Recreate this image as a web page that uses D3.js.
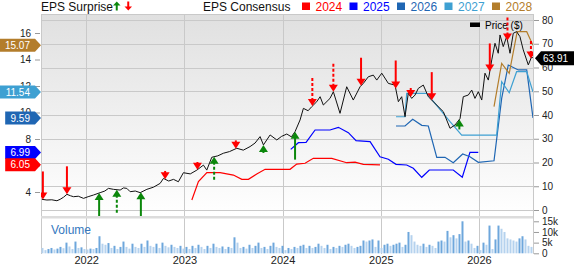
<!DOCTYPE html>
<html lang="en">
<head>
<meta charset="UTF-8" />
<title>EPS Surprise and Consensus</title>
<script src="https://d3js.org/d3.v7.min.js"></script>
<style>
  body { margin: 0; background: #fff; }
  svg { display: block; font-family: "Liberation Sans", Arial, sans-serif; }
</style>
</head>
<body>
<script>
// ---------- data ----------
var years = [2022, 2023, 2024, 2025, 2026];
var priceTicks = [0, 10, 20, 30, 40, 50, 60, 70, 80];
var epsTicks = [4, 6, 8, 10, 12, 14, 16];
var volTicks = [0, 5, 10, 15];

// price, dates as decimal years
var priceDates = [
  2021.549, 2021.600, 2021.650, 2021.702, 2021.735, 2021.770, 2021.804, 2021.840, 2021.871, 2021.920,
  2021.973, 2022.020, 2022.074, 2022.142, 2022.190, 2022.227, 2022.278, 2022.346, 2022.380, 2022.414,
  2022.448, 2022.500, 2022.550, 2022.618, 2022.685, 2022.753, 2022.787, 2022.840, 2022.889, 2022.939,
  2022.990, 2023.060, 2023.127, 2023.194, 2023.228, 2023.279, 2023.340, 2023.397, 2023.460, 2023.534,
  2023.600, 2023.669, 2023.720, 2023.771, 2023.805, 2023.873, 2023.941, 2023.990, 2024.043, 2024.090,
  2024.127, 2024.178, 2024.212, 2024.260, 2024.297, 2024.348, 2024.382, 2024.415, 2024.483, 2024.517,
  2024.585, 2024.653, 2024.720, 2024.789, 2024.822, 2024.873, 2024.924, 2024.959, 2025.010, 2025.077,
  2025.145, 2025.179, 2025.213, 2025.247, 2025.280, 2025.315, 2025.349, 2025.382, 2025.433, 2025.484,
  2025.552, 2025.637, 2025.705, 2025.756, 2025.807, 2025.840, 2025.891, 2025.926, 2025.959, 2025.993,
  2026.028, 2026.061, 2026.095, 2026.130, 2026.163, 2026.196, 2026.214, 2026.247, 2026.282, 2026.316,
  2026.349, 2026.383, 2026.417, 2026.451, 2026.502, 2026.536, 2026.550
];
var priceValues = [
  4.5, 4.2, 4.3, 3.9, 4.5, 5.4, 6.6, 6.0, 5.6, 5.8,
  4.9, 5.6, 6.3, 7.3, 8.0, 9.1, 8.7, 8.4, 9.3, 9.1,
  7.7, 8.0, 7.3, 8.7, 9.6, 11.2, 13.3, 12.2, 12.9, 11.9,
  15.7, 15.2, 16.8, 18.9, 16.8, 22.2, 22.8, 23.9, 24.6, 26.0,
  25.2, 26.7, 28.2, 30.9, 27.4, 31.6, 29.5, 31.0, 32.0, 30.8,
  33.0, 37.9, 42.8, 41.8, 43.5, 45.6, 47.7, 44.2, 47.0, 49.8,
  40.7, 51.9, 46.3, 51.9, 53.3, 56.1, 56.8, 54.7, 57.6, 53.3,
  52.6, 45.6, 47.7, 39.3, 49.1, 47.0, 48.4, 51.2, 52.6, 47.7,
  44.9, 41.4, 34.4, 35.8, 38.5, 47.7, 48.4, 50.5, 47.0, 49.8,
  46.3, 57.6, 54.7, 63.2, 70.2, 66.0, 73.7, 68.8, 73.0, 66.0,
  74.4, 75.1, 73.0, 67.4, 61.1, 64.5, 63.91
];

// EPS consensus by fiscal year
var eps2024Dates = [2023.076, 2023.143, 2023.229, 2023.364, 2023.499, 2023.585, 2023.652, 2023.737, 2023.822,
  2024.076, 2024.144, 2024.229, 2024.313, 2024.501, 2024.653, 2024.738, 2024.822, 2024.992];
var eps2024 = [3.40, 4.78, 5.46, 5.46, 5.28, 4.96, 4.96, 5.36, 5.71,
  5.71, 6.11, 6.17, 6.54, 6.54, 6.21, 6.26, 6.09, 6.05];

var eps2025Dates = [2024.083, 2024.161, 2024.239, 2024.331, 2024.483, 2024.568, 2024.670, 2024.748, 2024.891, 2024.992,
  2025.077, 2025.155, 2025.264, 2025.331, 2025.417, 2025.494, 2025.738, 2025.830, 2025.908, 2025.993];
var eps2025 = [7.22, 7.72, 7.75, 8.68, 8.68, 8.88, 8.48, 7.87, 7.80, 6.66,
  6.47, 6.09, 6.04, 5.79, 5.11, 5.66, 5.66, 5.11, 7.00, 6.99];

var eps2026Dates = [2025.155, 2025.247, 2025.325, 2025.417, 2025.484, 2025.570, 2025.654, 2025.738, 2025.834,
  2025.908, 2025.993, 2026.153, 2026.231, 2026.298, 2026.400, 2026.486, 2026.550];
var eps2026 = [8.98, 8.98, 9.49, 9.03, 8.98, 6.62, 6.62, 6.21, 6.87,
  6.66, 6.24, 6.36, 11.07, 13.58, 13.21, 13.21, 9.59];

var eps2027Dates = [2025.155, 2025.247, 2025.264, 2025.468, 2025.552, 2025.705, 2025.824, 2026.180, 2026.231,
  2026.308, 2026.383, 2026.486, 2026.550];
var eps2027 = [9.68, 9.68, 11.45, 11.45, 10.69, 9.31, 8.30, 8.30, 12.32,
  11.49, 13.08, 13.08, 11.54];

var eps2028Dates = [2026.153, 2026.231, 2026.308, 2026.389, 2026.486, 2026.550];
var eps2028 = [10.44, 13.71, 12.96, 16.10, 16.10, 15.07];

// EPS surprises (%), negative = miss
var surpriseDates = [2021.559, 2021.804, 2022.132, 2022.312, 2022.557, 2022.804, 2023.133, 2023.303, 2023.524, 2023.805,
  2024.127, 2024.303, 2024.517, 2024.799, 2025.152, 2025.305, 2025.519, 2025.800, 2026.110, 2026.290, 2026.529];
var surpriseValues = [-45, -38, 35, 24.6, 40, -8.9, -8.2, 24.6, -8.9, 8.6,
  33, -31, -30, -36, -32, -9.6, -33, 10.7, -42, -24.6, -18.6];
var surpriseDashed = [false, false, false, true, false, false, false, true, false, false,
  false, true, true, false, false, false, false, false, false, true, true];

// volume in thousands
var volStart = 2021.555, volStep = 0.03055;
var volume = [
  2.5, 1.5, 2.0, 2.5, 1.8, 2.2, 3.0, 2.4, 5.0, 3.2, 2.0, 5.5, 2.5, 2.8, 2.0,
  1.8, 2.2, 2.0, 2.5, 8.0, 4.5, 4.0, 4.8,
  2.5, 3.5, 2.0, 3.0, 5.5, 3.0, 2.2, 4.5, 3.0, 2.5,
  4.5, 3.0, 6.0, 3.5,
  3.0, 4.5, 2.5, 5.0, 3.5, 2.8, 4.0, 3.0, 2.5, 3.5, 2.2,
  3.0, 2.0, 3.5, 2.5, 4.0, 3.0, 2.0, 3.5, 2.5, 4.5, 3.0, 2.5, 3.2, 2.0, 3.0,
  2.5, 7.5, 5.0, 2.5,
  3.0, 2.2, 4.0, 2.5, 3.5, 5.0, 2.5, 3.0, 2.0, 3.5, 5.0, 3.0, 2.5, 3.5,
  1.5, 2.5, 2.0, 3.0, 2.5, 3.5, 4.0, 2.5, 3.5, 2.5,
  3.0, 4.5, 3.5, 2.5, 4.0, 2.0,
  3.0, 2.5, 3.5, 3.0, 4.0, 4.5, 3.5, 2.5, 3.0, 3.5, 6.0, 5.5, 6.0, 6.5, 3.0, 6.0, 2.5, 4.0, 4.5, 3.5, 4.0, 4.5, 5.0, 3.0, 4.0,
  10.0, 8.5, 5.5, 4.0, 3.5, 4.5, 3.0, 4.0, 3.5, 2.5, 5.5, 6.0, 5.5, 10.5, 7.5, 8.5, 7.0, 9.0, 15.0, 5.5, 6.0,
  4.5, 2.5, 3.5, 1.5, 5.0, 4.0, 13.0, 2.0, 6.5, 13.0, 11.5, 10.0, 7.0, 6.5, 6.0, 5.5, 7.0, 8.0, 6.5, 3.5, 3.0
];

var seriesNames = ["2024", "2025", "2026", "2027", "2028"];
var seriesColors = ["#ff0000", "#0000ff", "#1f66b3", "#3ea0d2", "#b37d2b"];
var seriesDates = [eps2024Dates, eps2025Dates, eps2026Dates, eps2027Dates, eps2028Dates];
var seriesValues = [eps2024, eps2025, eps2026, eps2027, eps2028];

// ---------- chart ----------
var w = 574, h = 264;
var plotLeft = 41, plotRight = 533, plotTop = 14, mainBottom = 216, volBottom = 254;

var svg = d3.select("body").append("svg").attr("width", w).attr("height", h);

var x = d3.scaleLinear().domain([2021.54, 2026.55]).range([plotLeft, plotRight]);
var yPrice = d3.scaleLinear().domain([0, 80]).range([210, 20]);
var yEps = d3.scaleLinear().domain([4, 16]).range([192, 33]);
var yVol = d3.scaleLinear().domain([0, 15]).range([253.3, 221.3]);
var arrowLen = d3.scaleLinear().domain([0, 30]).range([0, 28]).clamp(true);

var defs = svg.append("defs");
var grad = defs.append("linearGradient").attr("id", "bg")
  .attr("x1", 0).attr("y1", 0).attr("x2", 0).attr("y2", 1);
grad.append("stop").attr("offset", "0%").attr("stop-color", "#e0e0e0");
grad.append("stop").attr("offset", "100%").attr("stop-color", "#ffffff");
defs.append("clipPath").attr("id", "clip").append("rect")
  .attr("x", plotLeft).attr("y", plotTop).attr("width", plotRight - plotLeft).attr("height", mainBottom - plotTop);

svg.append("rect").attr("x", plotLeft).attr("y", plotTop)
  .attr("width", plotRight - plotLeft).attr("height", mainBottom - plotTop)
  .attr("fill", "url(#bg)");

// grid
svg.append("g").selectAll("line").data(priceTicks).join("line")
  .attr("x1", plotLeft).attr("x2", plotRight)
  .attr("y1", function(d) { return Math.round(yPrice(d)) + 0.5; })
  .attr("y2", function(d) { return Math.round(yPrice(d)) + 0.5; })
  .attr("stroke", "#c9c9c9");
svg.append("g").selectAll("line").data(years).join("line")
  .attr("x1", function(d) { return Math.round(x(d)) + 0.5; })
  .attr("x2", function(d) { return Math.round(x(d)) + 0.5; })
  .attr("y1", plotTop).attr("y2", volBottom)
  .attr("stroke", "#c9c9c9");

// frame
svg.append("line").attr("x1", plotLeft).attr("x2", plotRight).attr("y1", plotTop + 0.5).attr("y2", plotTop + 0.5).attr("stroke", "#c9c9c9");
svg.append("line").attr("x1", plotLeft + 0.5).attr("x2", plotLeft + 0.5).attr("y1", plotTop).attr("y2", volBottom).attr("stroke", "#c9c9c9");
svg.append("line").attr("x1", plotRight + 0.5).attr("x2", plotRight + 0.5).attr("y1", plotTop).attr("y2", volBottom).attr("stroke", "#c9c9c9");
svg.append("rect").attr("x", plotLeft).attr("y", mainBottom).attr("width", plotRight - plotLeft).attr("height", 2.5).attr("fill", "#dcdcdc");

// volume
svg.append("g").selectAll("rect").data(volume).join("rect")
  .attr("x", function(d, i) { return x(volStart + i * volStep) - 1; })
  .attr("y", function(d) { return yVol(d); })
  .attr("width", 2)
  .attr("height", function(d) { return yVol(0) - yVol(d); })
  .attr("fill", function(d, i) { return i > 0 && d > volume[i - 1] ? "#6ea7dc" : "#b5d2ee"; });

svg.append("text").attr("x", 51).attr("y", 233.5)
  .attr("font-size", 12).attr("fill", "#3579c0").text("Volume");

// axes
function styleAxis(g) {
  g.select(".domain").remove();
  g.selectAll(".tick line").attr("stroke", "#999");
  g.selectAll(".tick text").attr("fill", "#222").attr("font-size", 10)
    .attr("font-family", '"Liberation Sans", Arial, sans-serif');
}
svg.append("g").attr("transform", "translate(40,0)")
  .call(d3.axisLeft(yEps).tickValues(epsTicks).tickSize(5).tickPadding(4).tickFormat(d3.format("d")))
  .call(styleAxis);
svg.append("g").attr("transform", "translate(534,0)")
  .call(d3.axisRight(yPrice).tickValues(priceTicks).tickSize(5).tickPadding(3).tickFormat(d3.format("d")))
  .call(styleAxis);
svg.append("g").attr("transform", "translate(534,0)")
  .call(d3.axisRight(yVol).tickValues(volTicks).tickSize(5).tickPadding(3)
    .tickFormat(function(d) { return d ? d + "k" : "0"; }))
  .call(styleAxis);
svg.append("g").attr("transform", "translate(0,253)")
  .call(d3.axisBottom(x).tickValues(years).tickSize(0).tickPadding(3).tickFormat(d3.format("d")))
  .call(styleAxis)
  .call(function(g) { g.selectAll(".tick text").attr("font-size", 11); });

// price legend
svg.append("rect").attr("x", 470).attr("y", 22.5).attr("width", 10).attr("height", 4.5).attr("fill", "#000");
svg.append("text").attr("x", 485).attr("y", 28.8).attr("font-size", 10).attr("fill", "#000").text("Price ($)");

var plot = svg.append("g").attr("clip-path", "url(#clip)");

// consensus lines
var epsLine = d3.line()
  .x(function(d) { return x(d[0]); })
  .y(function(d) { return yEps(d[1]); });
seriesNames.forEach(function(name, k) {
  plot.append("path")
    .datum(d3.zip(seriesDates[k], seriesValues[k]))
    .attr("fill", "none")
    .attr("stroke", seriesColors[k])
    .attr("stroke-width", 1.2)
    .attr("d", epsLine);
});

// price line
var priceLine = d3.line()
  .x(function(d) { return x(d[0]); })
  .y(function(d) { return yPrice(d[1]); });
plot.append("path")
  .datum(d3.zip(priceDates, priceValues))
  .attr("fill", "none")
  .attr("stroke", "#111")
  .attr("stroke-width", 1)
  .attr("d", priceLine);

// surprise arrows
function priceAt(t) {
  var i = d3.bisectRight(priceDates, t);
  if (i <= 0) return priceValues[0];
  if (i >= priceDates.length) return priceValues[priceValues.length - 1];
  var t0 = priceDates[i - 1], t1 = priceDates[i];
  return priceValues[i - 1] + (priceValues[i] - priceValues[i - 1]) * (t - t0) / (t1 - t0);
}
surpriseDates.forEach(function(t, i) {
  var s = surpriseValues[i];
  var cx = x(t);
  var ty = yPrice(priceAt(t));
  var len = arrowLen(Math.abs(s));
  var up = s > 0;
  var col = up ? "#0b870b" : "#ff0000";
  var dir = up ? 1 : -1;
  plot.append("line")
    .attr("x1", cx).attr("x2", cx)
    .attr("y1", ty + dir * Math.max(len, 7)).attr("y2", ty + dir * 6)
    .attr("stroke", col).attr("stroke-width", 2)
    .attr("stroke-dasharray", surpriseDashed[i] ? "3,2" : null);
  plot.append("path")
    .attr("d", "M" + (cx - 4.5) + "," + (ty + dir * 7) + "L" + (cx + 4.5) + "," + (ty + dir * 7) + "L" + cx + "," + ty + "Z")
    .attr("fill", col);
});

// left badges with last consensus value
var badgeTip = 41;
seriesNames.slice().reverse().forEach(function(name, r) {
  var k = seriesNames.length - 1 - r;
  var vals = seriesValues[k];
  var v = vals[vals.length - 1];
  var label = d3.format(".2f")(v);
  var cy = yEps(v);
  var tw = label.length * 5.2;
  var x0 = badgeTip - 6 - tw - 9;
  svg.append("path")
    .attr("d", "M" + x0 + "," + (cy - 6.5) + "L" + (badgeTip - 6) + "," + (cy - 6.5) + "L" + badgeTip + "," + cy +
      "L" + (badgeTip - 6) + "," + (cy + 6.5) + "L" + x0 + "," + (cy + 6.5) + "Z")
    .attr("fill", seriesColors[k]);
  svg.append("text").attr("x", badgeTip - 11).attr("y", cy + 3.6)
    .attr("text-anchor", "end").attr("font-size", 10).attr("fill", "#fff").text(label);
});

// right price badge
var lastPrice = priceValues[priceValues.length - 1];
var py = yPrice(lastPrice);
svg.append("path")
  .attr("d", "M535," + py + "L541," + (py - 7) + "L574," + (py - 7) + "L574," + (py + 7) + "L541," + (py + 7) + "Z")
  .attr("fill", "#000");
svg.append("text").attr("x", 543).attr("y", py + 3.6).attr("font-size", 10).attr("fill", "#fff")
  .text(d3.format(".2f")(lastPrice));

// top legend
svg.append("text").attr("x", 41).attr("y", 11).attr("font-size", 12).attr("fill", "#111").text("EPS Surprise");
svg.append("path").attr("d", "M113,5.5L120.5,5.5L116.75,1.5Z").attr("fill", "#0b870b");
svg.append("line").attr("x1", 116.75).attr("x2", 116.75).attr("y1", 5).attr("y2", 10.5)
  .attr("stroke", "#0b870b").attr("stroke-width", 2);
svg.append("path").attr("d", "M124.5,6.5L132,6.5L128.25,10.5Z").attr("fill", "#ff0000");
svg.append("line").attr("x1", 128.25).attr("x2", 128.25).attr("y1", 1.5).attr("y2", 7)
  .attr("stroke", "#ff0000").attr("stroke-width", 2);

svg.append("text").attr("x", 203).attr("y", 11).attr("font-size", 12).attr("fill", "#111").text("EPS Consensus");
var legend = svg.append("g").selectAll("g").data(seriesNames).join("g")
  .attr("transform", function(d, i) { return "translate(" + (302 + i * 47.5) + ",0)"; });
legend.append("rect").attr("x", 0).attr("y", 2.5).attr("width", 8).attr("height", 7.5)
  .attr("fill", function(d, i) { return seriesColors[i]; });
legend.append("text").attr("x", 13.5).attr("y", 11).attr("font-size", 12)
  .attr("fill", function(d, i) { return seriesColors[i]; })
  .text(function(d) { return d; });
</script>
</body>
</html>
